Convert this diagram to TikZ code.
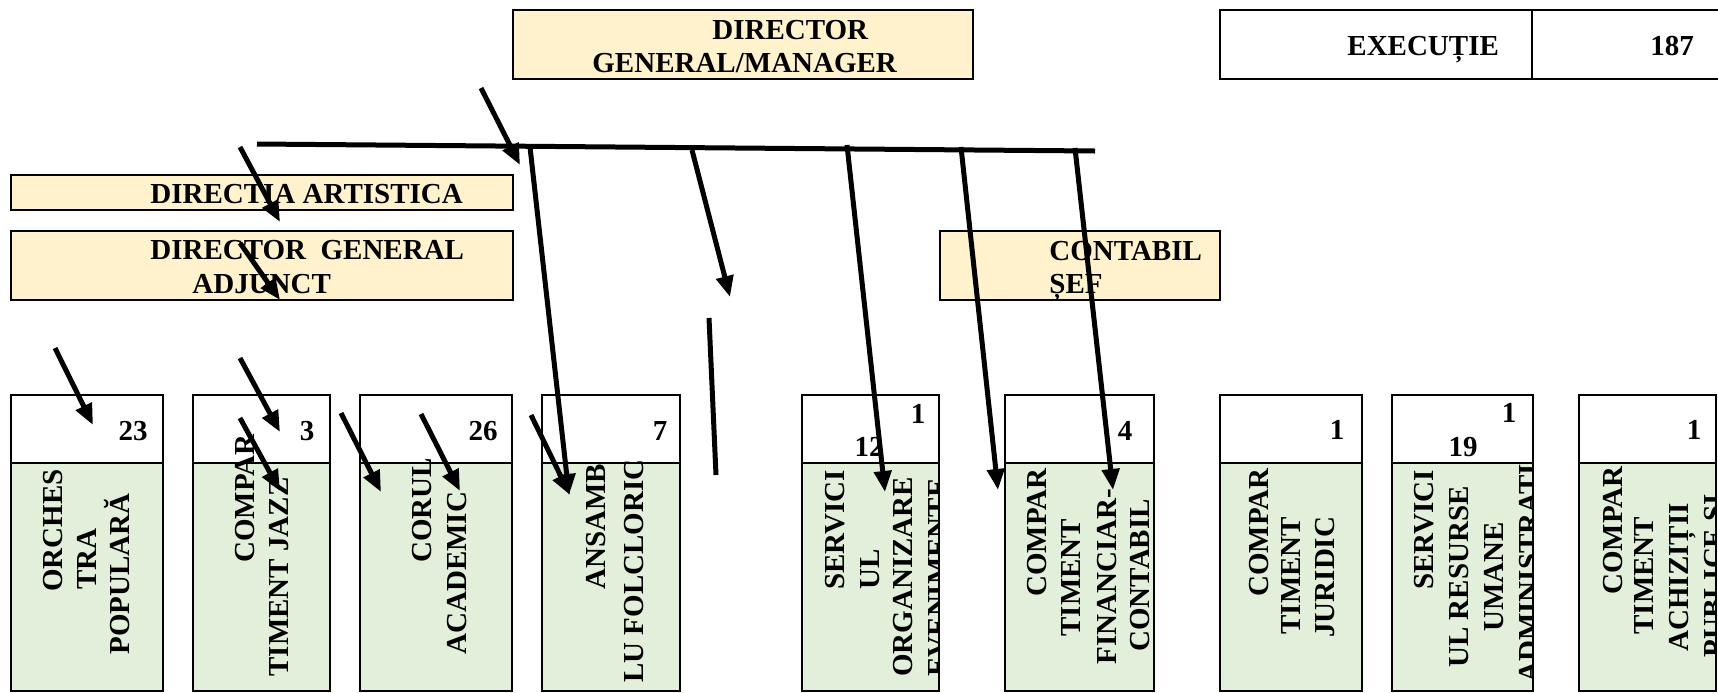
\documentclass[tikz,border=0pt]{standalone}
\usepackage{fontspec}
\setmainfont{Liberation Serif}
\usetikzlibrary{arrows.meta,fit}
\definecolor{boxyellow}{HTML}{FFF2CC}
\definecolor{boxgreen}{HTML}{E2EFDA}
\begin{document}
\begin{tikzpicture}[x=0.5pt,y=-0.5pt,
  lbl/.style={font=\fontsize{14.5}{17}\selectfont\bfseries, inner sep=0pt, anchor=base west},
  num/.style={font=\fontsize{14.5}{17}\selectfont\bfseries, inner sep=0pt, anchor=base},
  vlbl/.style={lbl, rotate=90},
  ybox/.style={draw=black, line width=1.4pt, fill=boxyellow, inner sep=0pt},
  wbox/.style={draw=black, line width=1.4pt, fill=white, inner sep=0pt},
  gbox/.style={draw=black, line width=1.4pt, fill=boxgreen, inner sep=0pt},
  arr/.style={line width=2.5pt, -{Triangle[length=10.5pt,width=8.5pt]}},
  bar/.style={line width=2.5pt},
]
\useasboundingbox (0,0) rectangle (1718,692);
\clip (0,0) rectangle (1718,692);

% ---- top boxes
\node[ybox, fit={(513,10)(973,79)}] (dg) {};
\node[lbl] (dgt1) at (712,39) {DIRECTOR};
\node[lbl] (dgt2) at (592,72) {GENERAL/MANAGER};

\node[wbox, fit={(1220,10)(1532,79)}] (exl) {};
\node[wbox, fit={(1532,10)(1730,79)}] (exr) {};
\node[lbl] (ext) at (1347,55) {EXECUȚIE};
\node[num] (exn) at (1672,55) {187};

\node[ybox, fit={(11,175)(513,210)}] (da) {};
\node[lbl] (dat) at (150,203) {DIRECTIA ARTISTICA};

\node[ybox, fit={(11,231)(513,300)}] (dga) {};
\node[lbl] (dgat1) at (150,259) {DIRECTOR\ \ GENERAL};
\node[lbl] (dgat2) at (192,293) {ADJUNCT};

\node[ybox, fit={(940,231)(1220,300)}] (cs) {};
\node[lbl] (cst1) at (1049,260) {CONTABIL};
\node[lbl] (cst2) at (1049,293) {ȘEF};

% ---- bottom boxes: headers
\node[wbox, fit={(11,395)(163,463)}] (h1) {};
\node[wbox, fit={(193,395)(330,463)}] (h2) {};
\node[wbox, fit={(360,395)(512,463)}] (h3) {};
\node[wbox, fit={(542,395)(680,463)}] (h4) {};
\node[wbox, fit={(802,395)(939,463)}] (h5) {};
\node[wbox, fit={(1005,395)(1154,463)}] (h6) {};
\node[wbox, fit={(1220,395)(1362,463)}] (h7) {};
\node[wbox, fit={(1392,395)(1533,463)}] (h8) {};
\node[wbox, fit={(1579,395)(1716,463)}] (h9) {};

\node[num] (n1) at (133,440) {23};
\node[num] (n2) at (307,440) {3};
\node[num] (n3) at (483,440) {26};
\node[num] (n4) at (660,440) {7};
\node[num] (n5a) at (918,423) {1};
\node[num] (n5b) at (869,456) {12};
\node[num] (n6) at (1125,440) {4};
\node[num] (n7) at (1337,439) {1};
\node[num] (n8a) at (1509,422) {1};
\node[num] (n8b) at (1463,456) {19};
\node[num] (n9) at (1694,439) {1};

% ---- bottom boxes: bodies
\node[gbox, fit={(11,463)(163,691)}] (b1) {};
\node[gbox, fit={(193,463)(330,691)}] (b2) {};
\node[gbox, fit={(360,463)(512,691)}] (b3) {};
\node[gbox, fit={(542,463)(680,691)}] (b4) {};
\node[gbox, fit={(802,463)(939,691)}] (b5) {};
\node[gbox, fit={(1005,463)(1154,691)}] (b6) {};
\node[gbox, fit={(1220,463)(1362,691)}] (b7) {};
\node[gbox, fit={(1392,463)(1533,691)}] (b8) {};
\node[gbox, fit={(1579,463)(1716,691)}] (b9) {};

\node[vlbl] (t1a) at (62.5,592) {ORCHES};
\node[vlbl] (t1b) at (96,590) {TRA};
\node[vlbl] (t1c) at (129.5,655) {POPULARĂ};

\node[vlbl] (t2a) at (254,563) {COMPAR};
\node[vlbl] (t2b) at (288,677) {TIMENT JAZZ};

\node[vlbl] (t3a) at (431,563) {CORUL};
\node[vlbl] (t3b) at (466.5,655) {ACADEMIC};

\node[vlbl] (t4a) at (605,590) {ANSAMB};
\node[vlbl] (t4b) at (643,683) {LU FOLCLORIC};

\begin{scope}
\clip (803,464) rectangle (938,690);
\node[vlbl] (t5a) at (844,590) {SERVICI};
\node[vlbl] (t5b) at (879,590) {UL};
\node[vlbl] (t5c) at (912,677) {ORGANIZARE};
\node[vlbl] (t5d) at (947,677) {EVENIMENTE};
\end{scope}

\node[vlbl] (t6a) at (1046.6,597) {COMPAR};
\node[vlbl] (t6b) at (1080,637) {TIMENT};
\node[vlbl] (t6c) at (1116,665) {FINANCIAR-};
\node[vlbl] (t6d) at (1149,652) {CONTABIL};

\node[vlbl] (t7a) at (1268,597) {COMPAR};
\node[vlbl] (t7b) at (1300,635) {TIMENT};
\node[vlbl] (t7c) at (1334,638) {JURIDIC};

\begin{scope}
\clip (1393,464) rectangle (1532,690);
\node[vlbl] (t8a) at (1433,590) {SERVICI};
\node[vlbl] (t8b) at (1468,668) {UL RESURSE};
\node[vlbl] (t8c) at (1503,632) {UMANE};
\node[vlbl] (t8d) at (1538,683) {ADMINISTRATIV};
\end{scope}

\begin{scope}
\clip (1580,464) rectangle (1715,690);
\node[vlbl] (t9a) at (1622,595) {COMPAR};
\node[vlbl] (t9b) at (1653,635) {TIMENT};
\node[vlbl] (t9c) at (1688,652) {ACHIZIȚII};
\node[vlbl] (t9d) at (1723,658) {PUBLICE ȘI};
\end{scope}

% ---- connectors
\coordinate (hl1) at (257,144);
\coordinate (hl2) at (1095,151);
\draw[bar] (hl1) -- (hl2);

\coordinate (aA1) at (481,88);   \coordinate (aA2) at (520,165);
\coordinate (aB1) at (240,147);  \coordinate (aB2) at (280,222);
\coordinate (aC1) at (240,243);  \coordinate (aC2) at (280,300);
\coordinate (aD1) at (530,147);  \coordinate (aD2) at (569,495);
\coordinate (aE1) at (692,150);  \coordinate (aE2) at (730,297);
\coordinate (aF1) at (847,145);  \coordinate (aF2) at (885,492);
\coordinate (aG1) at (961,147);  \coordinate (aG2) at (998,490);
\coordinate (aH1) at (1075,148); \coordinate (aH2) at (1113,490);
\coordinate (aI1) at (709,318);  \coordinate (aI2) at (716,475);
\coordinate (aJ1) at (55,348);   \coordinate (aJ2) at (93,425);
\coordinate (aK1) at (240,358);  \coordinate (aK2) at (280,432);
\coordinate (aL1) at (240,418);  \coordinate (aL2) at (280,491);
\coordinate (aM1) at (341,413);  \coordinate (aM2) at (381,492);
\coordinate (aN1) at (421,414);  \coordinate (aN2) at (460,491);
\coordinate (aO1) at (531,415);  \coordinate (aO2) at (570,495);

\draw[arr] (aA1) -- (aA2);
\draw[arr] (aB1) -- (aB2);
\draw[arr] (aC1) -- (aC2);
\draw[arr] (aD1) -- (aD2);
\draw[arr] (aE1) -- (aE2);
\draw[arr] (aF1) -- (aF2);
\draw[arr] (aG1) -- (aG2);
\draw[arr] (aH1) -- (aH2);
\draw[bar] (aI1) -- (aI2);
\draw[arr] (aJ1) -- (aJ2);
\draw[arr] (aK1) -- (aK2);
\draw[arr] (aL1) -- (aL2);
\draw[arr] (aM1) -- (aM2);
\draw[arr] (aN1) -- (aN2);
\draw[arr] (aO1) -- (aO2);
\end{tikzpicture}
\end{document}
